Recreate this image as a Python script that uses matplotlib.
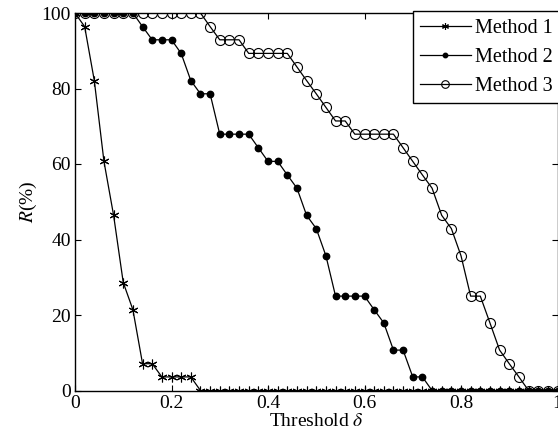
import numpy as np
import matplotlib
matplotlib.use('Agg')
import matplotlib.pyplot as plt

plt.rcParams['font.family'] = ['Liberation Serif', 'DejaVu Serif']
plt.rcParams['mathtext.fontset'] = 'stix'
plt.rcParams['font.size'] = 14

# threshold values, step 0.02
threshold = [round(0.02 * i, 2) for i in range(51)]

method1 = [100, 96.4, 82.1, 60.7, 46.4, 28.6, 21.4, 7.1, 7.1, 3.6,
           3.6, 3.6, 3.6, 0, 0, 0, 0, 0, 0, 0,
           0, 0, 0, 0, 0, 0, 0, 0, 0, 0,
           0, 0, 0, 0, 0, 0, 0, 0, 0, 0,
           0, 0, 0, 0, 0, 0, 0, 0, 0, 0, 0]

method2 = [100, 100, 100, 100, 100, 100, 100, 96.4, 92.9, 92.9,
           92.9, 89.3, 82.1, 78.6, 78.6, 67.9, 67.9, 67.9, 67.9, 64.3,
           60.7, 60.7, 57.1, 53.6, 46.4, 42.9, 35.7, 25.0, 25.0, 25.0,
           25.0, 21.4, 17.9, 10.7, 10.7, 3.6, 3.6, 0, 0, 0,
           0, 0, 0, 0, 0, 0, 0, 0, 0, 0, 0]

method3 = [100, 100, 100, 100, 100, 100, 100, 100, 100, 100,
           100, 100, 100, 100, 96.4, 92.9, 92.9, 92.9, 89.3, 89.3,
           89.3, 89.3, 89.3, 85.7, 82.1, 78.6, 75.0, 71.4, 71.4, 67.9,
           67.9, 67.9, 67.9, 67.9, 64.3, 60.7, 57.1, 53.6, 46.4, 42.9,
           35.7, 25.0, 25.0, 17.9, 10.7, 7.1, 3.6, 0, 0, 0, 0]

fig = plt.figure(figsize=(5.58, 4.42), dpi=100)
ax = fig.add_axes([75 / 558, 51.5 / 442, 482.5 / 558, 377.5 / 442])

asterisk = (6, 2, 0)
ax.plot(threshold, method1, color='k', lw=0.9, marker=asterisk, ms=7, mew=0.8,
        label='Method 1')
ax.plot(threshold, method2, color='k', lw=0.9, marker='o', ms=4.6,
        label='Method 2')
ax.plot(threshold, method3, color='k', lw=0.9, marker='o', ms=7.2, mfc='none',
        mew=0.8, label='Method 3')

ax.set_xlim(0, 1)
ax.set_ylim(0, 100)
ax.set_xticks([0, 0.2, 0.4, 0.6, 0.8, 1])
ax.set_xticklabels(['0', '0.2', '0.4', '0.6', '0.8', '1'])
ax.set_yticks([0, 20, 40, 60, 80, 100])
ax.tick_params(direction='in', top=True, right=True, length=4, width=0.8, pad=3)
for s in ax.spines.values():
    s.set_linewidth(1.0)

ax.set_xlabel(r'Threshold $\delta$', labelpad=1)
ax.set_ylabel(r'$R$(%)', labelpad=2)

leg = ax.legend(loc='upper right', bbox_to_anchor=(1.006, 1.004), borderaxespad=0,
                fancybox=False, edgecolor='k', framealpha=1, handlelength=2.5,
                labelspacing=0.48, borderpad=0.38, handletextpad=0.22,
                prop={'size': 14.5})
leg.get_frame().set_linewidth(1.0)
# legend markers are drawn smaller than in the plot
for h, ms in zip(leg.legend_handles, [5, 3.2, 5.5]):
    h.set_markersize(ms)

fig.savefig('out.png', dpi=100)
